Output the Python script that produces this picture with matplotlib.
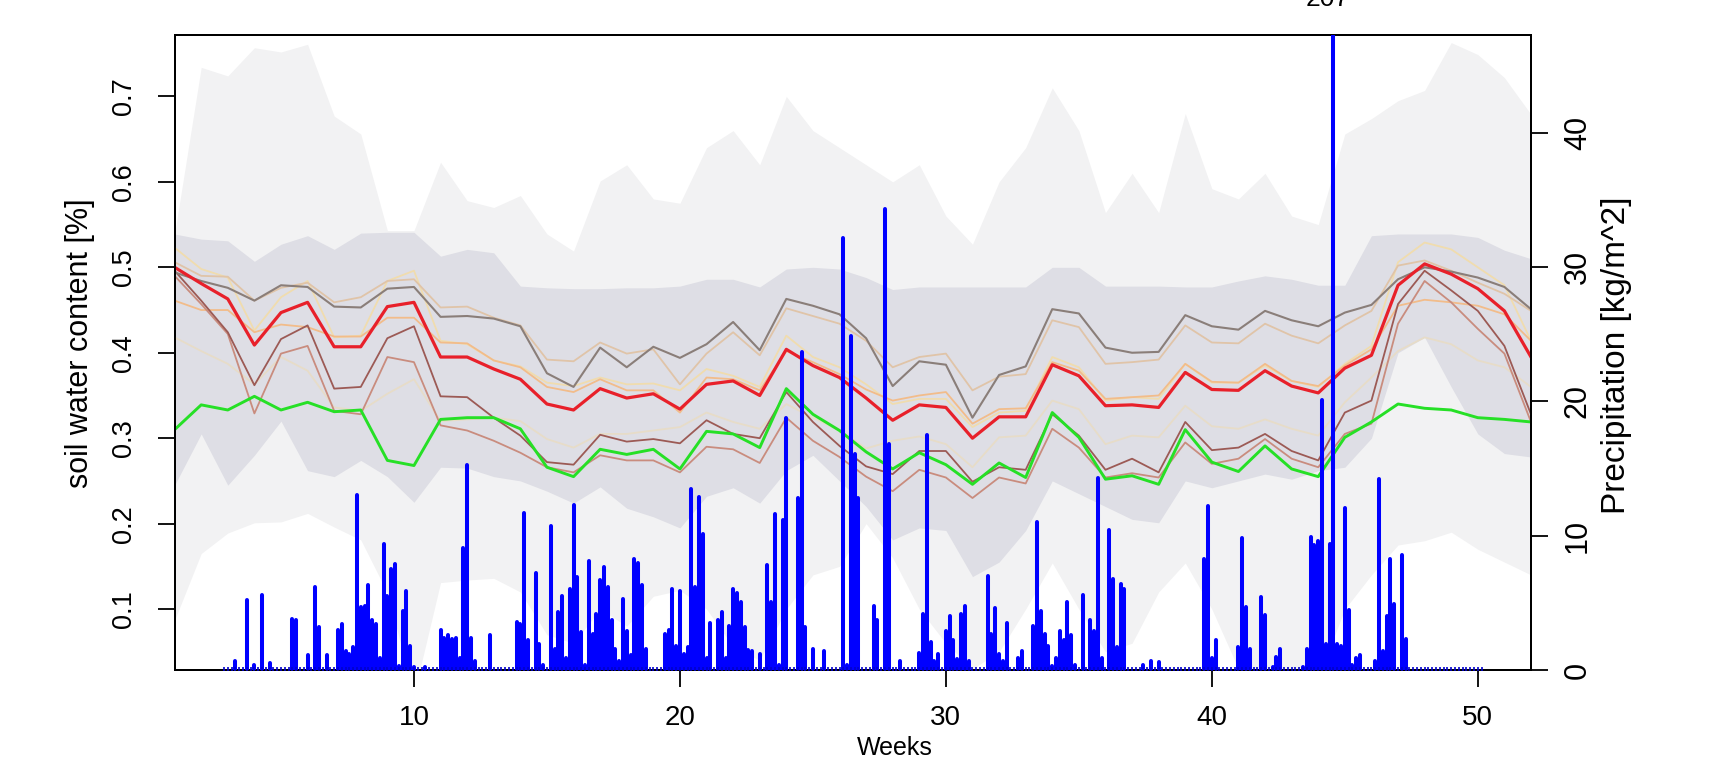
import numpy as np
import matplotlib
matplotlib.use("Agg")
import matplotlib.pyplot as plt
import matplotlib.transforms as mtransforms

plt.rcParams['font.family'] = ['Liberation Sans', 'DejaVu Sans']

# ---------------- data ----------------
weeks = list(range(1, 53))

env_hi = [0.539, 0.734, 0.724, 0.757, 0.752, 0.761, 0.677, 0.656, 0.543, 0.543,
          0.623, 0.578, 0.570, 0.584, 0.539, 0.519, 0.601, 0.620, 0.580, 0.575,
          0.640, 0.660, 0.620, 0.700, 0.660, 0.640, 0.620, 0.600, 0.620, 0.560,
          0.527, 0.600, 0.640, 0.710, 0.660, 0.564, 0.610, 0.564, 0.680, 0.592,
          0.580, 0.610, 0.560, 0.550, 0.656, 0.674, 0.695, 0.707, 0.763, 0.749,
          0.722, 0.679]
env_lo = [0.087, 0.165, 0.189, 0.201, 0.202, 0.212, 0.196, 0.181, 0.119, 0.000,
          0.131, 0.134, 0.136, 0.120, 0.070, 0.060, 0.100, 0.080, 0.115, 0.122,
          0.100, 0.056, 0.040, 0.100, 0.140, 0.150, 0.200, 0.160, 0.100, 0.060,
          0.030, 0.050, 0.100, 0.154, 0.100, 0.050, 0.060, 0.120, 0.154, 0.100,
          0.030, 0.000, 0.000, 0.020, 0.100, 0.140, 0.175, 0.180, 0.190, 0.170,
          0.155, 0.140]
band_hi = [0.539, 0.533, 0.531, 0.507, 0.527, 0.537, 0.521, 0.540, 0.541, 0.541,
           0.513, 0.521, 0.517, 0.478, 0.476, 0.475, 0.475, 0.476, 0.476, 0.478,
           0.486, 0.486, 0.477, 0.498, 0.500, 0.498, 0.488, 0.474, 0.477, 0.477,
           0.477, 0.477, 0.477, 0.500, 0.500, 0.478, 0.478, 0.478, 0.477, 0.477,
           0.484, 0.490, 0.486, 0.479, 0.479, 0.537, 0.539, 0.539, 0.539, 0.535,
           0.520, 0.510]
band_lo = [0.245, 0.305, 0.245, 0.280, 0.320, 0.262, 0.255, 0.274, 0.255, 0.225,
           0.266, 0.265, 0.255, 0.250, 0.238, 0.224, 0.243, 0.218, 0.208, 0.195,
           0.232, 0.242, 0.224, 0.262, 0.280, 0.250, 0.220, 0.181, 0.195, 0.192,
           0.138, 0.155, 0.192, 0.250, 0.235, 0.220, 0.205, 0.201, 0.250, 0.242,
           0.250, 0.258, 0.252, 0.262, 0.266, 0.300, 0.400, 0.418, 0.360, 0.305,
           0.282, 0.278]

swc_red = [0.500, 0.481, 0.463, 0.409, 0.447, 0.459, 0.407, 0.407, 0.454, 0.459,
           0.395, 0.395, 0.381, 0.369, 0.340, 0.333, 0.358, 0.347, 0.352, 0.334,
           0.363, 0.367, 0.350, 0.404, 0.385, 0.371, 0.347, 0.321, 0.339, 0.336,
           0.300, 0.325, 0.325, 0.386, 0.373, 0.338, 0.339, 0.336, 0.377, 0.357,
           0.356, 0.379, 0.361, 0.353, 0.382, 0.397, 0.479, 0.504, 0.492, 0.475,
           0.449, 0.395]
swc_green = [0.310, 0.339, 0.333, 0.349, 0.333, 0.342, 0.331, 0.333, 0.274, 0.268,
             0.322, 0.324, 0.324, 0.311, 0.266, 0.255, 0.287, 0.281, 0.287, 0.264,
             0.308, 0.305, 0.289, 0.358, 0.328, 0.309, 0.284, 0.264, 0.283, 0.269,
             0.246, 0.271, 0.254, 0.330, 0.301, 0.252, 0.256, 0.246, 0.310, 0.272,
             0.261, 0.291, 0.264, 0.255, 0.301, 0.319, 0.340, 0.335, 0.333, 0.324,
             0.322, 0.319]
swc_grey = [0.494, 0.484, 0.476, 0.461, 0.479, 0.477, 0.454, 0.453, 0.475, 0.477,
            0.442, 0.443, 0.440, 0.431, 0.376, 0.360, 0.406, 0.383, 0.407, 0.394,
            0.410, 0.436, 0.403, 0.463, 0.455, 0.445, 0.417, 0.361, 0.390, 0.386,
            0.324, 0.374, 0.384, 0.451, 0.446, 0.406, 0.400, 0.401, 0.444, 0.431,
            0.427, 0.449, 0.438, 0.431, 0.447, 0.456, 0.486, 0.500, 0.495, 0.488,
            0.477, 0.451]
swc_brown = [0.496, 0.461, 0.424, 0.362, 0.416, 0.432, 0.358, 0.360, 0.417, 0.431,
             0.349, 0.348, 0.324, 0.303, 0.272, 0.269, 0.304, 0.296, 0.299, 0.294,
             0.321, 0.305, 0.300, 0.354, 0.319, 0.291, 0.267, 0.258, 0.285, 0.285,
             0.249, 0.266, 0.263, 0.328, 0.303, 0.263, 0.276, 0.260, 0.319, 0.286,
             0.289, 0.305, 0.285, 0.274, 0.330, 0.344, 0.457, 0.496, 0.473, 0.449,
             0.408, 0.328]
swc_rosy = [0.490, 0.457, 0.422, 0.329, 0.399, 0.408, 0.332, 0.328, 0.395, 0.389,
            0.315, 0.309, 0.297, 0.283, 0.266, 0.260, 0.280, 0.274, 0.274, 0.260,
            0.290, 0.287, 0.271, 0.324, 0.297, 0.278, 0.255, 0.238, 0.263, 0.254,
            0.230, 0.254, 0.247, 0.311, 0.289, 0.254, 0.259, 0.254, 0.295, 0.270,
            0.276, 0.299, 0.276, 0.266, 0.305, 0.317, 0.434, 0.484, 0.459, 0.428,
            0.399, 0.319]
swc_sandy = [0.461, 0.450, 0.450, 0.424, 0.433, 0.430, 0.419, 0.419, 0.441, 0.441,
             0.412, 0.411, 0.391, 0.383, 0.360, 0.354, 0.369, 0.356, 0.356, 0.330,
             0.371, 0.369, 0.356, 0.402, 0.389, 0.375, 0.357, 0.344, 0.350, 0.354,
             0.317, 0.334, 0.335, 0.389, 0.379, 0.346, 0.348, 0.350, 0.387, 0.366,
             0.365, 0.387, 0.367, 0.361, 0.385, 0.404, 0.455, 0.462, 0.459, 0.455,
             0.445, 0.414]
swc_wheat = [0.523, 0.498, 0.488, 0.426, 0.465, 0.484, 0.418, 0.420, 0.484, 0.496,
             0.414, 0.410, 0.391, 0.384, 0.365, 0.361, 0.371, 0.363, 0.364, 0.356,
             0.381, 0.373, 0.360, 0.420, 0.395, 0.383, 0.363, 0.340, 0.346, 0.346,
             0.313, 0.330, 0.332, 0.395, 0.383, 0.344, 0.348, 0.346, 0.387, 0.365,
             0.365, 0.385, 0.367, 0.360, 0.387, 0.408, 0.506, 0.529, 0.521, 0.500,
             0.479, 0.414]
swc_tan = [0.506, 0.490, 0.489, 0.461, 0.476, 0.482, 0.459, 0.465, 0.484, 0.486,
           0.453, 0.454, 0.441, 0.432, 0.392, 0.390, 0.412, 0.399, 0.404, 0.363,
           0.399, 0.424, 0.397, 0.452, 0.443, 0.434, 0.414, 0.383, 0.395, 0.399,
           0.356, 0.372, 0.375, 0.438, 0.430, 0.387, 0.389, 0.392, 0.432, 0.412,
           0.411, 0.434, 0.420, 0.411, 0.432, 0.449, 0.502, 0.508, 0.496, 0.482,
           0.469, 0.449]
swc_pale = [0.418, 0.402, 0.387, 0.363, 0.395, 0.379, 0.336, 0.332, 0.352, 0.369,
            0.320, 0.322, 0.324, 0.320, 0.299, 0.289, 0.305, 0.305, 0.309, 0.313,
            0.330, 0.319, 0.311, 0.340, 0.324, 0.309, 0.288, 0.297, 0.302, 0.293,
            0.266, 0.301, 0.303, 0.344, 0.334, 0.293, 0.303, 0.301, 0.338, 0.314,
            0.311, 0.322, 0.311, 0.303, 0.342, 0.371, 0.402, 0.418, 0.410, 0.391,
            0.383, 0.360]

# daily precipitation [kg/m^2], first value is day-of-year 20 (x = day / 7 weeks)
precip_first_day = 20
precip = [
    0, 0, 0, 0.7, 0, 0, 5.2,
    0, 0.4, 0, 5.6, 0, 0.5, 0,
    0, 0, 0, 0, 3.8, 3.7, 0,
    0, 1.1, 0, 6.2, 3.2, 0, 1.1,
    0, 0, 3.0, 3.4, 1.4, 1.2, 1.7,
    13.0, 4.7, 4.8, 6.3, 3.7, 3.4, 0.9,
    9.4, 5.5, 7.5, 7.9, 0.3, 4.4, 5.9,
    1.8, 0.2, 0, 0, 0.2, 0, 0,
    0, 3.0, 2.4, 2.6, 2.3, 2.4, 0.9,
    9.1, 15.3, 2.4, 0.7, 0, 0, 0,
    2.6, 0, 0, 0, 0, 0, 0,
    3.6, 3.4, 11.7, 2.2, 0, 7.2, 1.9,
    0.4, 0, 10.7, 1.6, 4.3, 5.5, 0.9,
    6.0, 12.3, 6.9, 2.8, 0.4, 8.1, 2.7,
    4.2, 6.7, 7.7, 6.2, 3.7, 1.6, 0.7,
    5.3, 2.9, 1.1, 8.3, 8.0, 6.3, 1.6,
    0, 0, 0, 0, 2.7, 3.0, 6.0,
    1.8, 5.9, 1.2, 1.7, 13.5, 6.2, 12.9,
    10.1, 0.9, 3.5, 0, 3.7, 4.3, 0.9,
    3.3, 6.0, 5.7, 5.1, 3.2, 1.5, 1.4,
    0, 1.2, 0, 7.8, 5.1, 11.6, 0.4,
    11.2, 18.8, 0, 0, 12.8, 23.7, 3.2,
    0, 1.6, 0, 0, 1.4, 0, 0,
    0, 0, 32.2, 0.4, 24.9, 16.1, 12.8,
    0, 0, 0, 4.8, 3.7, 0, 34.3,
    16.8, 0, 0, 0.7, 0, 0, 0,
    0, 1.3, 4.2, 17.5, 2.1, 0.7, 1.2,
    0, 2.9, 4.0, 2.2, 0.8, 4.2, 4.8,
    0.7, 0, 0, 0, 0, 7.0, 2.7,
    4.6, 1.2, 0.7, 3.5, 0, 0, 0.9,
    1.4, 0, 0, 3.3, 11.0, 4.4, 2.7,
    1.8, 0.3, 0.9, 2.9, 2.2, 5.1, 2.6,
    0.4, 0, 5.6, 0, 3.7, 2.9, 14.3,
    0.9, 0, 10.4, 6.8, 1.7, 6.4, 6.0,
    0, 0, 0, 0, 0.4, 0, 0.7,
    0, 0.6, 0, 0, 0, 0, 0,
    0, 0, 0, 0, 0, 0, 8.3,
    12.2, 0.9, 2.2, 0, 0, 0, 0,
    0, 1.7, 9.8, 4.7, 1.6, 0, 0,
    5.4, 4.1, 0, 0.2, 1.0, 1.6, 0,
    0, 0, 0, 0, 0.2, 1.6, 9.9,
    9.3, 9.6, 20.1, 1.9, 9.4, 207, 1.9,
    1.8, 12.1, 4.5, 0.4, 0.9, 1.1, 0,
    0, 0, 0.7, 14.2, 1.4, 4.0, 8.3,
    4.9, 0, 8.6, 2.3, 0, 0, 0,
    0, 0, 0, 0, 0, 0, 0,
    0, 0, 0, 0, 0, 0, 0,
    0, 0, 0,
]

x_ticks = [10, 20, 30, 40, 50]
y_ticks = [0.1, 0.2, 0.3, 0.4, 0.5, 0.6, 0.7]
p_ticks = [0, 10, 20, 30, 40]

# ---------------- figure ----------------
W, H = 1711, 758
fig = plt.figure(figsize=(W / 100, H / 100), dpi=100)
L, R, T, B = 174.6, 1531.0, 34.9, 670.0
ax = fig.add_axes([L / W, 1 - B / H, (R - L) / W, (B - T) / H])

ax.fill_between(weeks, env_lo, env_hi, color='#F2F2F3', lw=0, zorder=1)
ax.fill_between(weeks, band_lo, band_hi, color='#DEDEE5', lw=0, zorder=2)

thin = 1.3
ax.plot(weeks, swc_pale, color='#E7DCC8', lw=thin, zorder=3)
ax.plot(weeks, swc_wheat, color='#F0DCAE', lw=thin, zorder=3)
ax.plot(weeks, swc_sandy, color='#F2BC8A', lw=thin, zorder=3)
ax.plot(weeks, swc_tan, color='#E0C4A8', lw=thin, zorder=3)
ax.plot(weeks, swc_rosy, color='#C98C7E', lw=thin, zorder=4)
ax.plot(weeks, swc_brown, color='#9C5A55', lw=thin, zorder=4)
ax.plot(weeks, swc_grey, color='#8A7E79', lw=thin + 0.2, zorder=4)
ax.plot(weeks, swc_red, color='#E8202A', lw=2.3, zorder=5)
ax.plot(weeks, swc_green, color='#26E026', lw=2.1, zorder=5)

ax.set_xlim(1, 52)
ax.set_ylim(0.0287, 0.772)
ax.set_xticks(x_ticks)
ax.set_xticklabels([str(v) for v in x_ticks], fontsize=20)
ax.set_yticks(y_ticks)
ax.set_yticklabels([f"{v:.1f}" for v in y_ticks], rotation=90, va='center',
                   fontsize=19.5)

ax.tick_params(axis='both', direction='out', length=12, width=1.3,
               colors='black')
ax.tick_params(axis='x', pad=13)
ax.tick_params(axis='y', pad=15)
for s in ax.spines.values():
    s.set_linewidth(1.4)

ax2 = ax.twinx()
days = np.arange(precip_first_day, precip_first_day + len(precip))
px = days / 7.0
pv = np.array(precip, dtype=float)
lc = ax2.vlines(px, 0, pv, colors='#0000FF', lw=2.9, zorder=6)
lc.set_capstyle('round')
ax2.plot(px, np.zeros_like(px), ls='none', marker='|', ms=4, mew=1.2,
         color='#0000CC', zorder=6)
ax2.set_ylim(0, 47.3)
ax2.set_xlim(1, 52)
ax2.set_yticks(p_ticks)
ax2.set_yticklabels([str(v) for v in p_ticks], rotation=90, va='center',
                    fontsize=22)
ax2.tick_params(axis='y', direction='out', length=12, width=1.3, pad=11)
for s in ax2.spines.values():
    s.set_linewidth(1.4)

# label of the clipped maximum bar, cut by the figure edge
imax = int(np.argmax(pv))
blend = mtransforms.blended_transform_factory(ax2.transData, fig.transFigure)
ax2.text(px[imax] - 0.2, 1 - 6 / H, f"{pv[imax]:g}", transform=blend,
         ha='center', va='baseline', fontsize=19, clip_on=False)

fig.text(895 / W, 1 - 748 / H, "Weeks", ha='center', va='center', fontsize=18)
fig.text(80 / W, 1 - 343 / H, "soil water content [%]", rotation=90,
         ha='center', va='center', fontsize=22)
fig.text(1617 / W, 1 - 355 / H, "Precipitation [kg/m^2]", rotation=90,
         ha='center', va='center', fontsize=24)

fig.savefig("out.png", dpi=100)
